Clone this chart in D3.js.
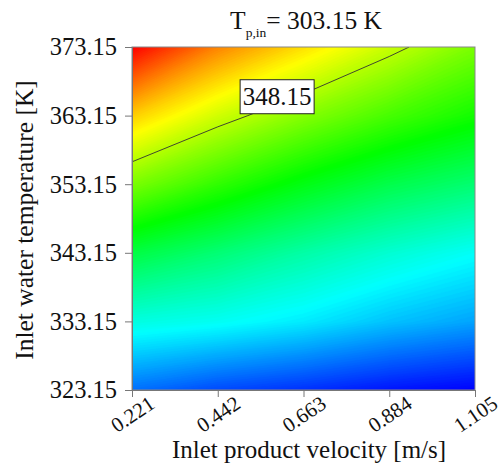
<!DOCTYPE html>
<html lang="en">
<head>
  <meta charset="UTF-8" />
  <title>Contour - outlet temperature</title>
  <script src="https://d3js.org/d3.v7.min.js"></script>
  <style>
    body { margin: 0; background: #fff; }
    svg { display: block; font-family: "Liberation Serif", "Times New Roman", serif; }
    .axis path, .axis line { stroke: #777; }
    .axis text { fill: #111; font-family: "Liberation Serif", serif; }
  </style>
</head>
<body>
  <svg id="chart" width="502" height="467"></svg>
  <script>
    // grid axes (tick values)
    const velocities = [0.221, 0.442, 0.663, 0.884, 1.105];
    const waterTemps = [323.15, 333.15, 343.15, 353.15, 363.15, 373.15];

    // response, one row per water temperature (bottom to top)
    const row32315 = [327.2, 325.8, 324.9, 323.9, 323.2];
    const row33315 = [333.5, 332.8, 331.7, 330.2, 329.1];
    const row34315 = [339.2, 337.4, 335.6, 334.0, 332.6];
    const row35315 = [346.0, 343.3, 340.9, 338.9, 337.5];
    const row36315 = [352.6, 349.1, 346.4, 344.1, 342.2];
    const row37315 = [360.0, 355.2, 351.9, 348.8, 346.0];

    const contourLevels = [348.15];
    const colorStops = ["#0000ff", "#00ffff", "#00ff00", "#ffff00", "#ff0000"];

    const width = 502, height = 467;
    const margin = { top: 47, right: 27, bottom: 77, left: 132 };
    const svg = d3.select("#chart");

    const x = d3.scaleLinear()
      .domain([velocities[0], velocities[velocities.length - 1]])
      .range([margin.left, width - margin.right]);
    const y = d3.scaleLinear()
      .domain([waterTemps[0], waterTemps[waterTemps.length - 1]])
      .range([height - margin.bottom, margin.top]);

    // grid for d3.contours: row 0 at the top
    const rows = [row37315, row36315, row35315, row34315, row33315, row32315];
    const nx = velocities.length, ny = rows.length;
    const values = rows.flat();
    const zMin = d3.min(values), zMax = d3.max(values);

    const color = d3.scaleLinear()
      .domain(d3.range(colorStops.length).map(i => zMin + i * (zMax - zMin) / (colorStops.length - 1)))
      .range(colorStops)
      .clamp(true);

    // contour coordinates: sample k sits at k + 0.5
    const gx = d3.scaleLinear().domain([0.5, nx - 0.5]).range([x(velocities[0]), x(velocities[nx - 1])]);
    const gy = d3.scaleLinear().domain([0.5, ny - 0.5]).range([y(waterTemps[ny - 1]), y(waterTemps[0])]);
    const path = d3.geoPath(d3.geoTransform({
      point(px, py) { this.stream.point(gx(px), gy(py)); }
    }));

    svg.append("clipPath").attr("id", "plotClip")
      .append("rect")
      .attr("x", margin.left).attr("y", margin.top)
      .attr("width", width - margin.left - margin.right)
      .attr("height", height - margin.top - margin.bottom);

    const plot = svg.append("g").attr("clip-path", "url(#plotClip)");

    // base fill then many thin bands
    plot.append("rect")
      .attr("x", margin.left).attr("y", margin.top)
      .attr("width", width - margin.left - margin.right)
      .attr("height", height - margin.top - margin.bottom)
      .attr("fill", color(zMin));

    const nBands = 160;
    const step = (zMax - zMin) / nBands;
    const thresholds = d3.range(1, nBands).map(i => zMin + i * step);
    const bands = d3.contours().size([nx, ny]).thresholds(thresholds)(values);
    plot.selectAll("path.band")
      .data(bands)
      .join("path")
      .attr("class", "band")
      .attr("d", path)
      .attr("fill", d => color(d.value + step / 2))
      .attr("stroke", d => color(d.value + step / 2))
      .attr("stroke-width", 0.6);

    // labelled contour line
    const lines = d3.contours().size([nx, ny]).thresholds(contourLevels)(values);
    plot.selectAll("path.iso")
      .data(lines)
      .join("path")
      .attr("class", "iso")
      .attr("d", path)
      .attr("fill", "none")
      .attr("stroke", "#333")
      .attr("stroke-width", 0.9);

    // contour label
    const labelPos = [0.595, 365.9];
    const lg = svg.append("g").attr("transform", `translate(${x(labelPos[0])},${y(labelPos[1])})`);
    lg.append("rect")
      .attr("x", -37).attr("y", -17).attr("width", 74).attr("height", 34)
      .attr("fill", "#fff").attr("stroke", "#222").attr("stroke-width", 1);
    lg.append("text")
      .attr("text-anchor", "middle").attr("dy", "0.35em")
      .attr("font-size", 25).attr("fill", "#111")
      .text(contourLevels[0].toFixed(2));

    // frame
    svg.append("rect")
      .attr("x", margin.left).attr("y", margin.top)
      .attr("width", width - margin.left - margin.right)
      .attr("height", height - margin.top - margin.bottom)
      .attr("fill", "none").attr("stroke", "#888").attr("stroke-width", 1);

    // axes
    const yAxis = svg.append("g")
      .attr("class", "axis")
      .attr("transform", `translate(${margin.left},0)`)
      .call(d3.axisLeft(y).tickValues(waterTemps).tickFormat(d3.format(".2f")).tickSize(7).tickPadding(8));
    yAxis.selectAll("text").attr("font-size", 24.5);

    const xAxis = svg.append("g")
      .attr("class", "axis")
      .attr("transform", `translate(0,${height - margin.bottom})`)
      .call(d3.axisBottom(x).tickValues(velocities).tickFormat(d3.format(".3f")).tickSize(7));
    xAxis.selectAll("text")
      .attr("font-size", 21)
      .attr("text-anchor", "middle")
      .attr("dy", "0.35em")
      .attr("y", 0)
      .attr("transform", "translate(0,24) rotate(-34)");
    svg.selectAll(".axis .domain").attr("stroke", "#888");

    // axis titles
    svg.append("text")
      .attr("x", 309).attr("y", 458)
      .attr("text-anchor", "middle").attr("font-size", 25).attr("fill", "#111")
      .text("Inlet product velocity [m/s]");

    svg.append("text")
      .attr("transform", "translate(33,220) rotate(-90)")
      .attr("text-anchor", "middle").attr("font-size", 25.5).attr("fill", "#111")
      .text("Inlet water temperature [K]");

    // title with subscript
    const title = svg.append("text")
      .attr("x", 306).attr("y", 29)
      .attr("text-anchor", "middle").attr("font-size", 25.5).attr("fill", "#111");
    title.append("tspan").text("T");
    title.append("tspan").attr("font-size", 13.5).attr("dy", 8).text("p,in");
    title.append("tspan").attr("dy", -8).text("= 303.15 K");
  </script>
</body>
</html>
